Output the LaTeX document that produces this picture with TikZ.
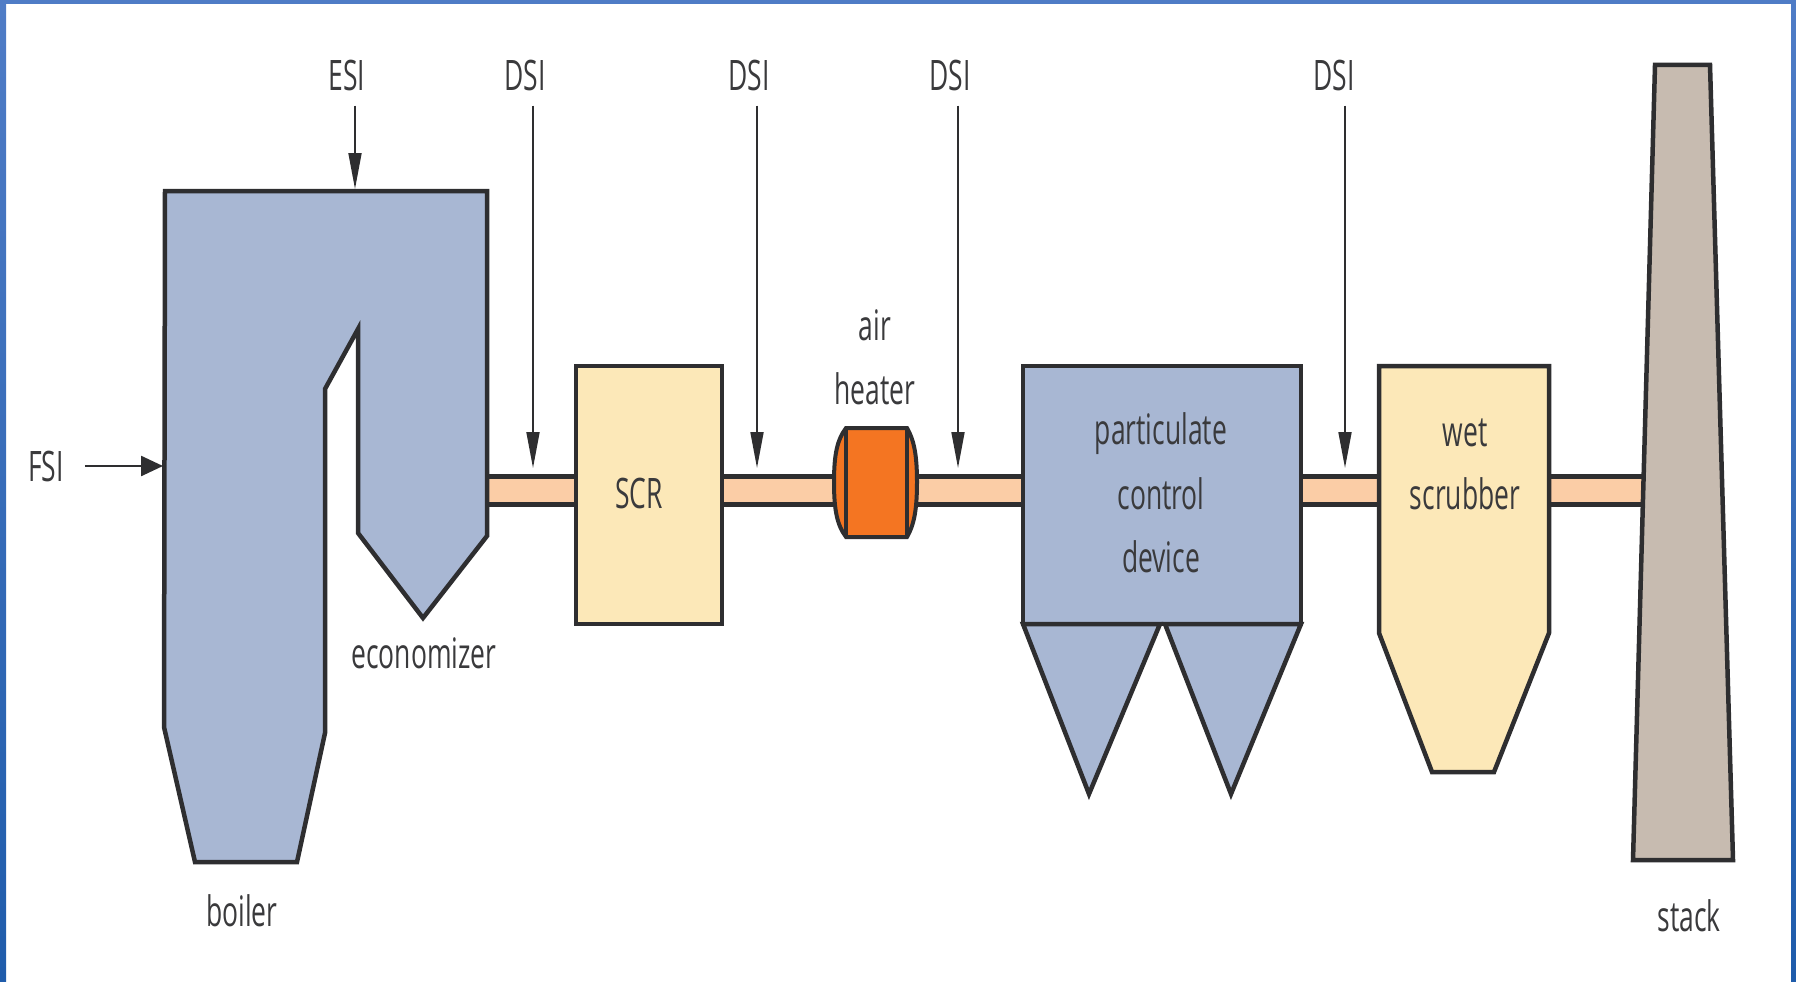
\documentclass[tikz,border=0pt]{standalone}
\usepackage{fontspec}
\setmainfont[FakeStretch=0.63]{Open Sans}
\usetikzlibrary{arrows.meta,positioning}
\definecolor{FrameTop}{HTML}{4F7CC6}
\definecolor{FrameMid}{HTML}{1E62C4}
\definecolor{FrameLow}{HTML}{1F5CAB}
\definecolor{LineDark}{HTML}{2E2E30}
\definecolor{TextGrey}{HTML}{3A3A3C}
\definecolor{BoilerBlue}{HTML}{A8B7D3}
\definecolor{ScrYellow}{HTML}{FCE8B8}
\definecolor{DuctPeach}{HTML}{FBCDA6}
\definecolor{HeaterOrange}{HTML}{F47522}
\definecolor{StackTaupe}{HTML}{C7BBB0}

\begin{document}
\begin{tikzpicture}[
  x=1pt, y=-1pt,
  font=\fontsize{42}{46}\selectfont,
  tag/.style={inner sep=15pt, text=TextGrey},
  unit/.style={draw=LineDark, line width=4.5pt, line join=miter},
  duct/.style={draw=LineDark, line width=5pt},
  feed/.style={draw=LineDark, line width=1.8pt, -{Stealth[length=36pt, width=13pt, inset=0pt]}},
  sidefeed/.style={draw=LineDark, line width=2.5pt, -{Stealth[length=22pt, width=20pt, inset=0pt]}}
]
\useasboundingbox (0,0) rectangle (1796,982);

% window edge
\fill[FrameTop] (0,0) rectangle (1796,4);
\shade[top color=FrameTop, middle color=FrameMid, bottom color=FrameLow] (0,0) rectangle (6,982);
\shade[top color=FrameTop, middle color=FrameMid, bottom color=FrameLow] (1791,0) rectangle (1796,982);

% flue gas line
\foreach \xa/\xb in {487/576, 722/834, 917/1023, 1301/1379, 1549/1644} {
  \fill[DuctPeach] (\xa,476) rectangle (\xb,504);
  \draw[duct] (\xa,476) -- (\xb,476);
  \draw[duct] (\xa,504) -- (\xb,504);
}

% equipment
\draw[unit, fill=BoilerBlue] (165,191) -- (487,191) -- (487,536) -- (423,618) -- (358,533) -- (358,329)
  -- (325,389) -- (325,733) -- (297,862) -- (195,862) -- (164,727) -- cycle;
\node[unit, fill=ScrYellow, minimum width=146pt, minimum height=258pt, inner sep=0pt] (scr) at (649,495) {};
\draw[unit, fill=HeaterOrange, line width=4pt] (846,428) .. controls (837,440) and (834,455) .. (834,482)
  .. controls (834,510) and (837,525) .. (846,537) -- (907,537) .. controls (914,525) and (917,510) .. (917,482)
  .. controls (917,455) and (914,440) .. (907,428) -- cycle;
\draw[LineDark, line width=3.5pt] (846,428) -- (846,537) (907,428) -- (907,537);
\node[unit, fill=BoilerBlue, minimum width=278pt, minimum height=258pt, inner sep=0pt] (pcd) at (1162,495) {};
\draw[unit, fill=BoilerBlue] (1023,624) -- (1160,624) -- (1089,794) -- cycle;
\draw[unit, fill=BoilerBlue] (1165,624) -- (1301,624) -- (1231,794) -- cycle;
\draw[unit, fill=ScrYellow] (1379,366) -- (1549,366) -- (1549,633) -- (1494,772) -- (1432,772) -- (1379,633) -- cycle;
\draw[unit, fill=StackTaupe] (1655,65) -- (1710,65) -- (1733,860) -- (1633,860) -- cycle;

% labels
\node[tag] (fsi) at (46,466) {FSI};
\node[tag] (esi) at (347,75) {ESI};
\node[tag] (dsia) at (525,75) {DSI};
\node[tag] (dsib) at (749,75) {DSI};
\node[tag] (dsic) at (950,75) {DSI};
\node[tag] (dsid) at (1334,75) {DSI};
\node[tag] (air) at (875,325) {air};
\node[tag] (heater) at (875,389) {heater};
\node[tag] (scrlabel) at (639,493) {SCR};
\node[tag] (particulate) at (1161,434) {particulate};
\node[tag] (control) at (1161,494) {control};
\node[tag] (device) at (1161,557) {device};
\node[tag] (wet) at (1465,433) {wet};
\node[tag] (scrubber) at (1465,494) {scrubber};
\node[tag] (economizer) at (424,653) {economizer};
\node[tag] (boiler) at (242,911) {boiler};
\node[tag] (stack) at (1689,916) {stack};

% injection points
\coordinate (boilerwall) at (163,466);
\coordinate (boilertop) at (355,189);
\coordinate (ductb) at (533,468);
\coordinate (ductc) at (757,468);
\coordinate (ductd) at (958,468);
\coordinate (ducte) at (1345,468);
\draw[sidefeed] (fsi.east) ++(6,0) -- (boilerwall);
\draw[feed] (esi.south -| boilertop) -- (boilertop);
\draw[feed] (dsia.south -| ductb) -- (ductb);
\draw[feed] (dsib.south -| ductc) -- (ductc);
\draw[feed] (dsic.south -| ductd) -- (ductd);
\draw[feed] (dsid.south -| ducte) -- (ducte);

\end{tikzpicture}
\end{document}
